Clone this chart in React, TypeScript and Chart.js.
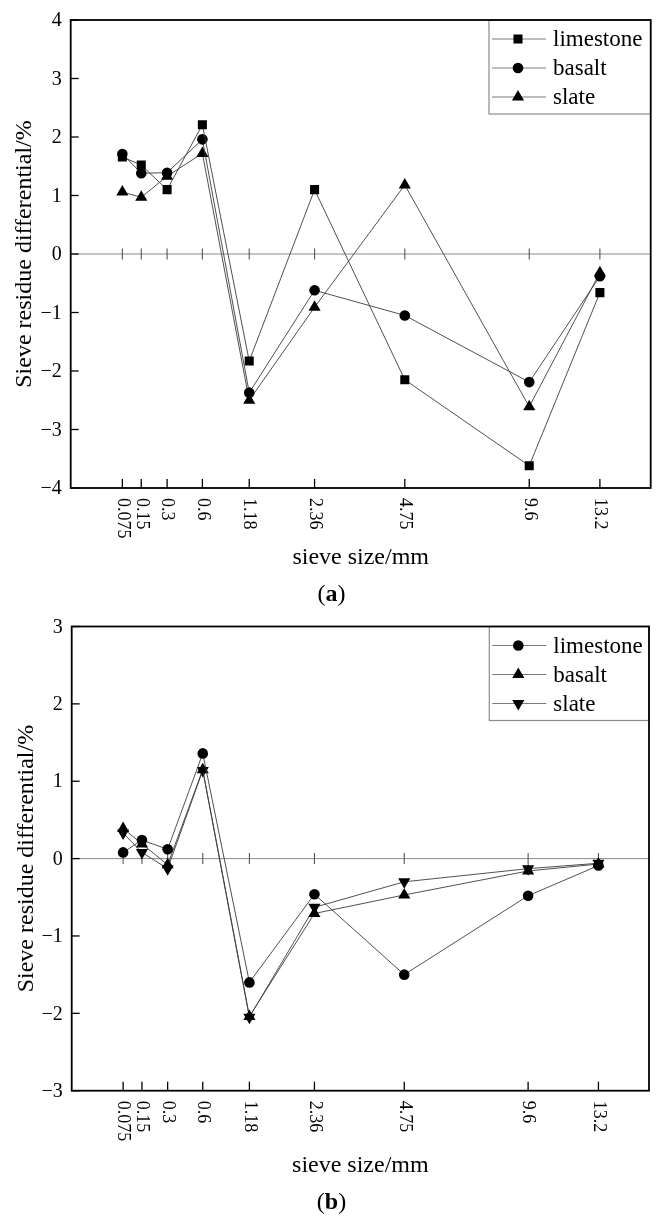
import React, { useEffect, useRef } from 'react';
import { Chart, registerables } from 'chart.js';

Chart.register(...registerables);

// Sieve sizes (mm) and their axis labels; the x axis is a 0.45-power gradation scale.
const sieveSizes = [0.075, 0.15, 0.3, 0.6, 1.18, 2.36, 4.75, 9.6, 13.2];
const sieveLabels = ['0.075', '0.15', '0.3', '0.6', '1.18', '2.36', '4.75', '9.6', '13.2'];
const GRADATION_POWER = 0.45;

// (a) sieve residue differential, %
const limestoneA = [1.66, 1.52, 1.1, 2.21, -1.83, 1.1, -2.15, -3.62, -0.66];
const basaltA = [1.71, 1.38, 1.39, 1.96, -2.37, -0.62, -1.05, -2.19, -0.38];
const slateA = [1.06, 0.97, 1.33, 1.72, -2.5, -0.91, 1.18, -2.61, -0.32];

// (b) sieve residue differential, %
const limestoneB = [0.08, 0.24, 0.12, 1.36, -1.6, -0.46, -1.5, -0.48, -0.09];
const basaltB = [0.39, 0.19, -0.08, 1.15, -2.04, -0.71, -0.47, -0.16, -0.07];
const slateB = [0.33, 0.08, -0.13, 1.14, -2.05, -0.63, -0.3, -0.13, -0.06];

const yTicksA = [-4, -3, -2, -1, 0, 1, 2, 3, 4];
const yTicksB = [-3, -2, -1, 0, 1, 2, 3];

const FONT = '"Liberation Serif", "Times New Roman", serif';

type Marker = 'rect' | 'circle' | 'triangle' | 'triangleDown';

interface SeriesDef {
  label: string;
  values: number[];
  marker: Marker;
}

interface PanelDef {
  caption: string;
  series: SeriesDef[];
  yTicks: number[];
  width: number;
  height: number;
  padding: { left: number; right: number; top: number; bottom: number };
  yTitleX: number;
  xTitleOffset: number;
  captionOffset: number;
  legendWidth: number;
}

const gx = (size: number) => Math.pow(size, GRADATION_POWER);

function markerGeometry(m: Marker) {
  switch (m) {
    case 'rect':
      return { pointStyle: 'rect', radius: 6.4, rotation: 0 };
    case 'circle':
      return { pointStyle: 'circle', radius: 5.3, rotation: 0 };
    case 'triangle':
      return { pointStyle: 'triangle', radius: 7, rotation: 0 };
    default:
      return { pointStyle: 'triangle', radius: 7, rotation: 180 };
  }
}

function drawMarker(ctx: CanvasRenderingContext2D, m: Marker, x: number, y: number) {
  const g = markerGeometry(m);
  const r = g.radius;
  ctx.beginPath();
  if (g.pointStyle === 'rect') {
    const s = r * Math.SQRT1_2;
    ctx.rect(x - s, y - s, 2 * s, 2 * s);
  } else if (g.pointStyle === 'circle') {
    ctx.arc(x, y, r, 0, Math.PI * 2);
  } else {
    let rad = (g.rotation * Math.PI) / 180;
    ctx.moveTo(x + Math.sin(rad) * r, y - Math.cos(rad) * r);
    rad += (2 * Math.PI) / 3;
    ctx.lineTo(x + Math.sin(rad) * r, y - Math.cos(rad) * r);
    rad += (2 * Math.PI) / 3;
    ctx.lineTo(x + Math.sin(rad) * r, y - Math.cos(rad) * r);
    ctx.closePath();
  }
  ctx.fill();
}

function seg(ctx: CanvasRenderingContext2D, x1: number, y1: number, x2: number, y2: number) {
  ctx.beginPath();
  ctx.moveTo(x1, y1);
  ctx.lineTo(x2, y2);
  ctx.stroke();
}

function decorPlugin(panel: PanelDef) {
  return {
    id: 'panelDecor',
    beforeDatasetsDraw(chart: any) {
      const { ctx, chartArea: a, scales } = chart;
      const x = scales.x;
      const y = scales.y;
      const y0 = y.getPixelForValue(0);
      ctx.save();
      ctx.strokeStyle = '#8a8a8a';
      ctx.lineWidth = 1;
      seg(ctx, a.left, y0, a.right, y0);
      ctx.strokeStyle = '#555';
      ctx.lineWidth = 1.1;
      sieveSizes.forEach((s) => {
        const px = x.getPixelForValue(gx(s));
        seg(ctx, px, y0 - 5.5, px, y0 + 5.5);
      });
      ctx.restore();
    },
    afterDraw(chart: any) {
      const { ctx, chartArea: a, scales } = chart;
      const x = scales.x;
      const y = scales.y;
      ctx.save();

      // inward tick marks
      ctx.strokeStyle = '#000';
      ctx.lineWidth = 1.3;
      panel.yTicks.forEach((v) => {
        const py = y.getPixelForValue(v);
        seg(ctx, a.left, py, a.left + 8, py);
      });
      sieveSizes.forEach((s) => {
        const px = x.getPixelForValue(gx(s));
        seg(ctx, px, a.bottom, px, a.bottom - 9);
      });

      // legend box in the top-right corner
      const lx = a.right - panel.legendWidth;
      const lh = 94;
      ctx.fillStyle = '#fff';
      ctx.fillRect(lx, a.top, panel.legendWidth, lh);
      ctx.strokeStyle = '#8c8c8c';
      ctx.lineWidth = 1.2;
      ctx.strokeRect(lx, a.top, panel.legendWidth, lh);
      ctx.font = `23px ${FONT}`;
      ctx.textAlign = 'left';
      ctx.textBaseline = 'middle';
      panel.series.forEach((s, i) => {
        const ry = a.top + 19 + i * 29;
        ctx.strokeStyle = '#7a7a7a';
        ctx.lineWidth = 1;
        seg(ctx, lx + 3, ry, lx + 57, ry);
        ctx.fillStyle = '#000';
        drawMarker(ctx, s.marker, lx + 29, ry);
        ctx.fillText(s.label, lx + 64, ry + 1);
      });

      // frame
      ctx.strokeStyle = '#000';
      ctx.lineWidth = 1.8;
      ctx.strokeRect(a.left, a.top, a.right - a.left, a.bottom - a.top);

      // y tick labels
      ctx.fillStyle = '#000';
      ctx.font = `20px ${FONT}`;
      ctx.textAlign = 'right';
      ctx.textBaseline = 'middle';
      panel.yTicks.forEach((v) => {
        const py = y.getPixelForValue(v);
        const txt = v < 0 ? `\u2212${Math.abs(v)}` : `${v}`;
        ctx.fillText(txt, a.left - 9, py + 1);
      });

      // x tick labels, rotated to read downward
      ctx.font = `18px ${FONT}`;
      ctx.textAlign = 'left';
      ctx.textBaseline = 'middle';
      sieveSizes.forEach((s, i) => {
        const px = x.getPixelForValue(gx(s));
        ctx.save();
        ctx.translate(px, a.bottom + 10);
        ctx.rotate(Math.PI / 2);
        ctx.fillText(sieveLabels[i], 0, 0);
        ctx.restore();
      });

      // axis titles
      ctx.font = `24px ${FONT}`;
      ctx.textAlign = 'center';
      ctx.textBaseline = 'middle';
      ctx.fillText('sieve size/mm', (a.left + a.right) / 2, a.bottom + panel.xTitleOffset);
      ctx.save();
      ctx.translate(panel.yTitleX, (a.top + a.bottom) / 2);
      ctx.rotate(-Math.PI / 2);
      ctx.fillText('Sieve residue differential/%', 0, 0);
      ctx.restore();

      // panel caption "(a)" / "(b)" with a bold letter
      const cy = a.bottom + panel.captionOffset;
      ctx.font = `24px ${FONT}`;
      const wOpen = ctx.measureText('(').width;
      const wClose = ctx.measureText(')').width;
      ctx.font = `bold 24px ${FONT}`;
      const wLetter = ctx.measureText(panel.caption).width;
      let cx = panel.width / 2 - (wOpen + wLetter + wClose) / 2;
      ctx.textAlign = 'left';
      ctx.font = `24px ${FONT}`;
      ctx.fillText('(', cx, cy);
      cx += wOpen;
      ctx.font = `bold 24px ${FONT}`;
      ctx.fillText(panel.caption, cx, cy);
      cx += wLetter;
      ctx.font = `24px ${FONT}`;
      ctx.fillText(')', cx, cy);

      ctx.restore();
    },
  };
}

function Panel({ panel }: { panel: PanelDef }) {
  const ref = useRef<HTMLCanvasElement | null>(null);
  useEffect(() => {
    if (!ref.current) return;
    const datasets = panel.series.map((s) => {
      const g = markerGeometry(s.marker);
      return {
        label: s.label,
        data: s.values.map((v, i) => ({ x: gx(sieveSizes[i]), y: v })),
        borderColor: '#3c3c3c',
        borderWidth: 0.9,
        backgroundColor: '#000',
        pointBackgroundColor: '#000',
        pointBorderColor: '#000',
        pointBorderWidth: 0,
        pointStyle: g.pointStyle as any,
        pointRadius: g.radius,
        pointRotation: g.rotation,
        tension: 0,
        fill: false,
      };
    });
    const yMin = panel.yTicks[0];
    const yMax = panel.yTicks[panel.yTicks.length - 1];
    const chart = new Chart(ref.current, {
      type: 'line',
      data: { datasets },
      options: {
        responsive: false,
        maintainAspectRatio: false,
        animation: false,
        events: [],
        layout: { padding: panel.padding },
        plugins: { legend: { display: false }, tooltip: { enabled: false } },
        scales: {
          x: { type: 'linear', min: 0, max: 3.5, display: false },
          y: { type: 'linear', min: yMin, max: yMax, display: false },
        },
      },
      plugins: [decorPlugin(panel)],
    });
    return () => chart.destroy();
  }, [panel]);
  return (
    <canvas
      ref={ref}
      width={panel.width}
      height={panel.height}
      style={{ display: 'block', width: panel.width, height: panel.height }}
    />
  );
}

const panelA: PanelDef = {
  caption: 'a',
  series: [
    { label: 'limestone', values: limestoneA, marker: 'rect' },
    { label: 'basalt', values: basaltA, marker: 'circle' },
    { label: 'slate', values: slateA, marker: 'triangle' },
  ],
  yTicks: yTicksA,
  width: 663,
  height: 615,
  padding: { left: 70.7, right: 12.3, top: 20, bottom: 127 },
  yTitleX: 25,
  xTitleOffset: 70,
  captionOffset: 107,
  legendWidth: 161.7,
};

const panelB: PanelDef = {
  caption: 'b',
  series: [
    { label: 'limestone', values: limestoneB, marker: 'circle' },
    { label: 'basalt', values: basaltB, marker: 'triangle' },
    { label: 'slate', values: slateB, marker: 'triangleDown' },
  ],
  yTicks: yTicksB,
  width: 663,
  height: 613,
  padding: { left: 71.7, right: 14, top: 11.5, bottom: 137.3 },
  yTitleX: 27,
  xTitleOffset: 75,
  captionOffset: 112,
  legendWidth: 159.7,
};

export default function App() {
  return (
    <div style={{ position: 'absolute', left: 0, top: 0, width: 663, height: 1228, background: '#fff' }}>
      <Panel panel={panelA} />
      <Panel panel={panelB} />
    </div>
  );
}
